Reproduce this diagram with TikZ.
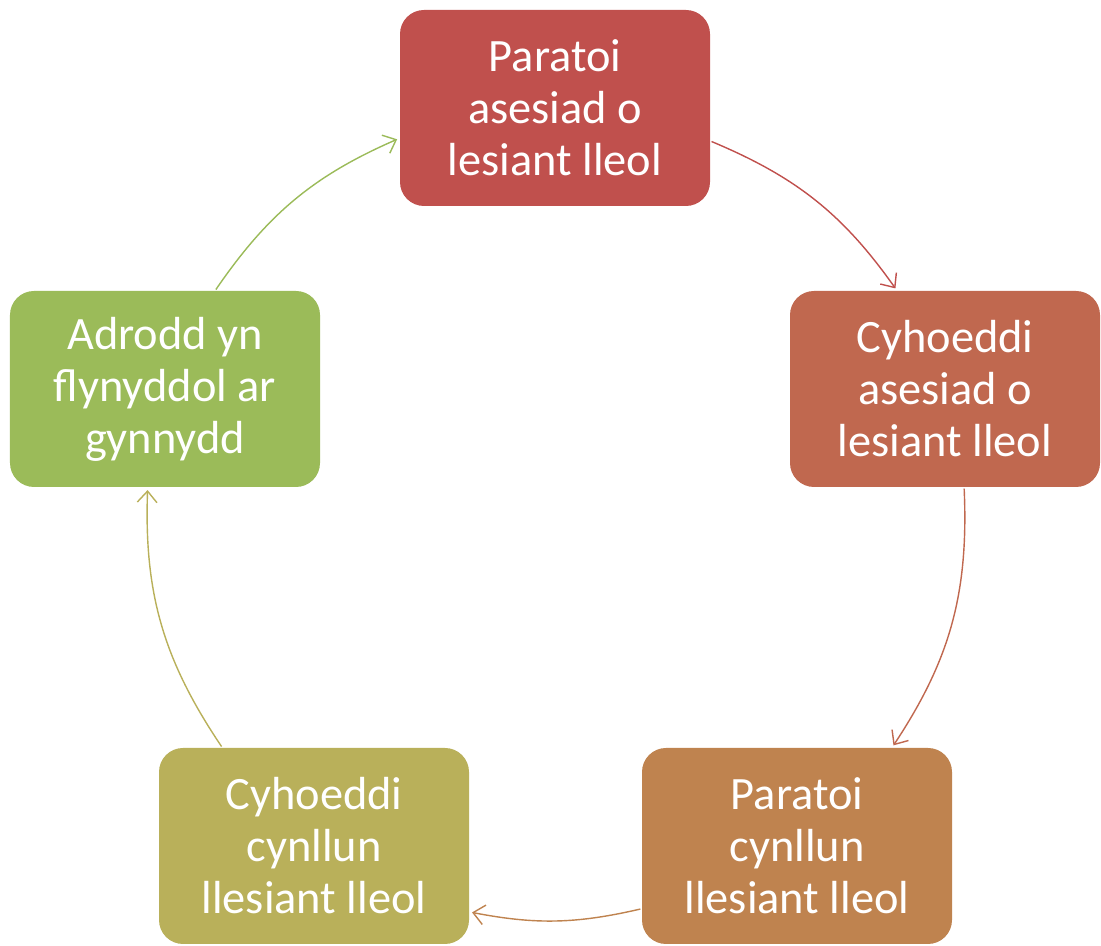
\documentclass[tikz,border=0pt]{standalone}
\usepackage{fontspec}
\setmainfont{Carlito}
\usetikzlibrary{arrows.meta}

\begin{document}
\begin{tikzpicture}[
    stage/.style={rectangle, rounded corners=0.6cm, minimum width=7.75cm,
        minimum height=4.9cm, inner sep=0pt, align=center, text=white,
        font=\fontsize{33}{37}\selectfont},
    cycle/.style={line width=1pt, -{Straight Barb[length=8pt,width=14pt]},
        shorten >=2pt, shorten <=1pt}
]
    \definecolor{st_red}{HTML}{C0504D}
    \definecolor{st_rust}{HTML}{C0684F}
    \definecolor{st_brown}{HTML}{BF834F}
    \definecolor{st_olive}{HTML}{B9B05A}
    \definecolor{st_green}{HTML}{9BBB59}
    %\draw[help lines] (0,0) grid (28,24);
    \useasboundingbox (0,0) rectangle (27.525,23.65);

    \node[stage, fill=st_red] (asesiad) at (13.875,20.95) {Paratoi\\asesiad o\\lesiant lleol};
    \node[stage, fill=st_rust] (cyhoeddi) at (23.625,13.925) {Cyhoeddi\\asesiad o\\lesiant lleol};
    \node[stage, fill=st_brown] (cynllun) at (19.925,2.5) {Paratoi\\cynllun\\llesiant lleol};
    \node[stage, fill=st_olive] (cyhoeddicyn) at (7.85,2.5) {Cyhoeddi\\cynllun\\llesiant lleol};
    \node[stage, fill=st_green] (adrodd) at (4.125,13.925) {Adrodd yn\\flynyddol ar\\gynnydd};

    \draw[cycle, st_red] (asesiad.-12.6) to[bend left=16] (cyhoeddi.116.6);
    \draw[cycle, st_rust] (cyhoeddi.-79.5) to[bend left=18] (cynllun.46.4);
    \draw[cycle, st_brown] (cynllun.202.6) to[bend left=12] (cyhoeddicyn.-23.6);
    \draw[cycle, st_olive] (cyhoeddicyn.133.3) to[bend left=18] (adrodd.260.8);
    \draw[cycle, st_green] (adrodd.63) to[bend left=16] (asesiad.191.1);
\end{tikzpicture}
\end{document}
